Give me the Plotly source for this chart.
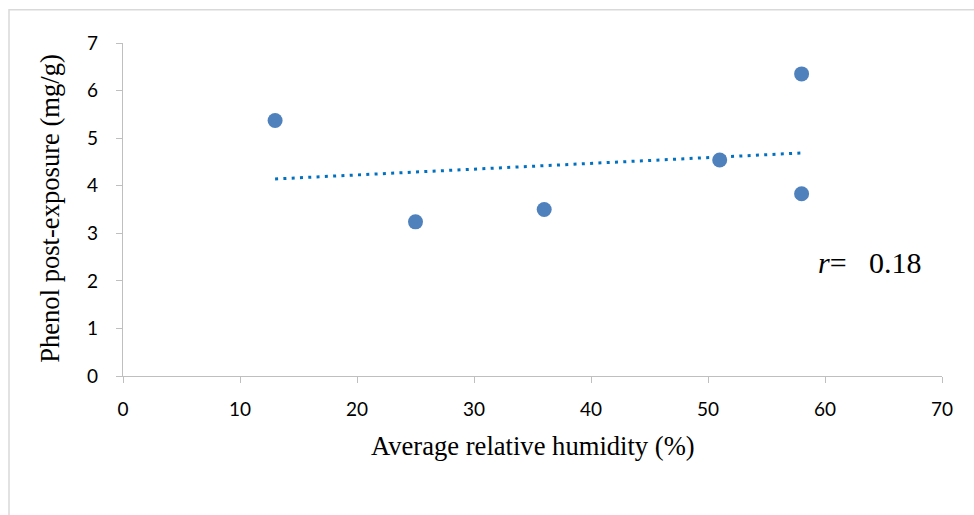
import numpy as np
import plotly.graph_objects as go

humidity = [13, 25, 36, 51, 58, 58]
phenol = [5.37, 3.24, 3.5, 4.54, 6.35, 3.83]
x_ticks = [0, 10, 20, 30, 40, 50, 60, 70]
y_ticks = [0, 1, 2, 3, 4, 5, 6, 7]
x_title = "Average relative humidity (%)"
y_title = "Phenol post-exposure (mg/g)"
r_label = "0.18"

xa = np.array(humidity, dtype=float)
ya = np.array(phenol, dtype=float)
slope, intercept = np.polyfit(xa, ya, 1)
trend_x = [xa.min(), xa.max()]
trend_y = [slope * v + intercept for v in trend_x]

serif = "Liberation Serif"

fig = go.Figure()
fig.add_trace(go.Scatter(
    x=trend_x, y=trend_y, mode="lines",
    line=dict(color="#0070C0", width=3, dash="3px,5.3px"),
    hoverinfo="skip", showlegend=False,
))
fig.add_trace(go.Scatter(
    x=humidity, y=phenol, mode="markers",
    marker=dict(color="#4F81BD", size=15, line=dict(width=0)),
    showlegend=False,
))

axis_common = dict(
    showgrid=False, zeroline=False, showline=True,
    linecolor="#BFBFBF", linewidth=1.3,
    ticks="outside", ticklen=6, tickcolor="#BFBFBF", tickwidth=1.3,
    tickfont=dict(family="Lato", size=19, color="#000000"),
)
fig.update_xaxes(range=[0, 70], tickvals=x_ticks, ticklabelstandoff=10, **axis_common)
fig.update_yaxes(range=[0, 7], tickvals=y_ticks, ticklabelstandoff=14, **axis_common)

fig.update_layout(
    width=974, height=515, autosize=False,
    margin=dict(l=123, r=32, t=43, b=139),
    plot_bgcolor="white", paper_bgcolor="white",
    annotations=[
        dict(text=x_title, xref="paper", yref="paper", x=0.5, y=(376 - 446) / 332.7,
             xanchor="center", yanchor="middle", showarrow=False,
             font=dict(family=serif, size=26.6, color="#000000")),
        dict(text=y_title, xref="paper", yref="paper", x=(50 - 123) / 819, y=(376 - 209) / 332.7,
             xanchor="center", yanchor="middle", showarrow=False, textangle=-90,
             font=dict(family=serif, size=26.6, color="#000000")),
        dict(text="<i>r</i>=\u00a0\u00a0\u00a0" + r_label, xref="paper", yref="paper",
             x=(816 - 123) / 819, y=(376 - 263) / 332.7,
             xanchor="left", yanchor="middle", showarrow=False,
             font=dict(family=serif, size=30, color="#000000")),
    ],
    shapes=[
        dict(type="rect", xref="paper", yref="paper",
             x0=(9 - 123) / 819, x1=1.2, y0=-0.5, y1=(376 - 10) / 332.7,
             line=dict(color="#D9D9D9", width=1.5), layer="below"),
    ],
)

fig.write_html("out.html")
